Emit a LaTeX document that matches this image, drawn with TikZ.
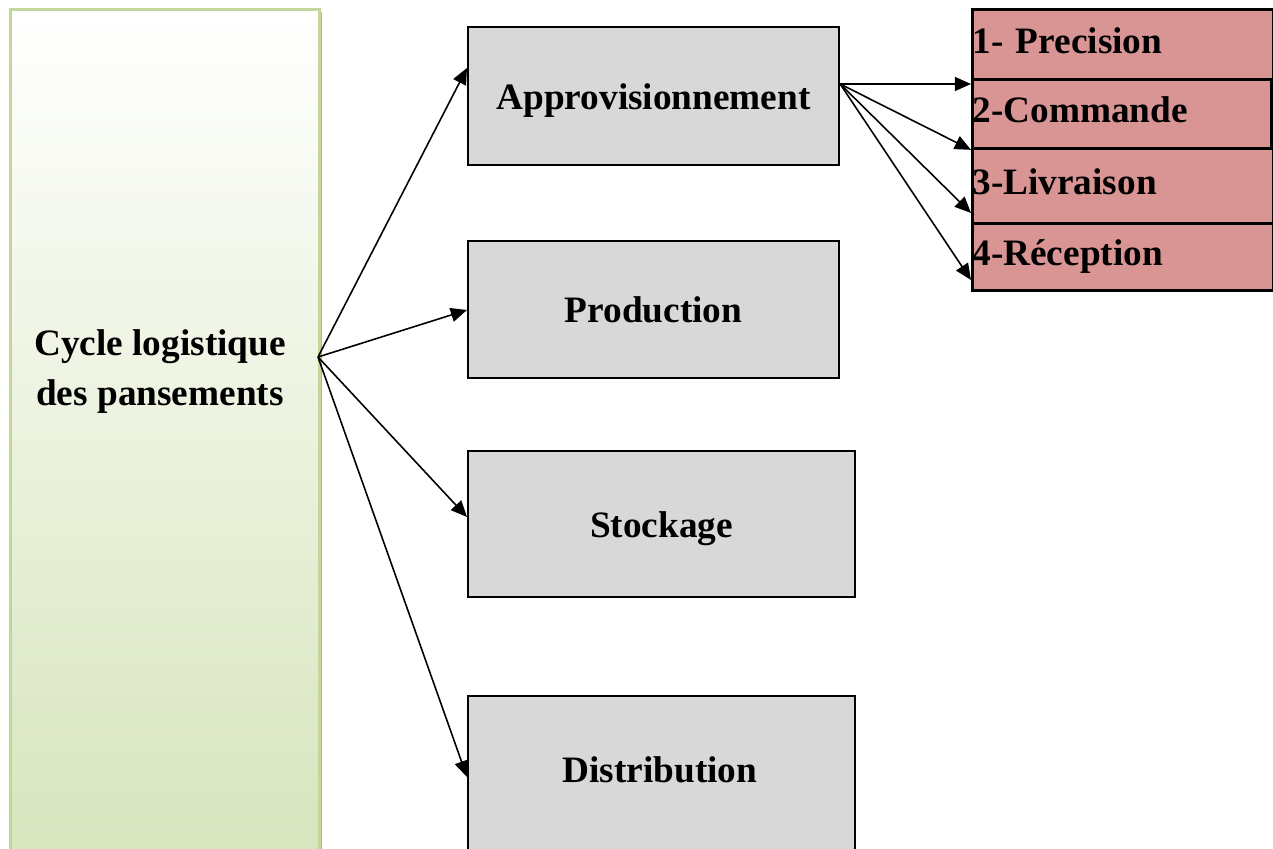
\documentclass[tikz,border=0pt]{standalone}
\usepackage{fontspec}
\setmainfont{Liberation Serif}
\usetikzlibrary{arrows.meta,calc}
\definecolor{redbox}{HTML}{D99594}
\definecolor{graybox}{HTML}{D8D8D8}
\definecolor{greenline}{HTML}{C3D69B}
\definecolor{greenfill}{HTML}{D7E4BC}
\definecolor{greenshadow}{HTML}{A9BF85}
\begin{document}
\begin{tikzpicture}[x=0.01cm,y=-0.01cm,
  lbl/.style={font=\fontsize{10.6}{14.2}\selectfont\bfseries},
  graystep/.style={draw=black,line width=0.55pt,fill=graybox,inner sep=0pt,lbl,anchor=north west,text height=7.5pt,text depth=0pt},
  redstep/.style={draw=black,line width=0.8pt,fill=redbox,inner xsep=0pt,inner ysep=0pt,align=left,lbl,anchor=north west,text height=7.5pt,text depth=2.5pt},
  conn/.style={-{Triangle[length=4.6pt,width=4pt]},line width=0.45pt}]
\useasboundingbox (0,0) rectangle (1273,849);
\clip (0,0) rectangle (1273,849);
% left green box
\fill[greenshadow] (12,12) rectangle (321.5,880);
\node[draw=greenline,line width=0.8pt,top color=white,bottom color=greenfill,
      minimum width=3.09cm,minimum height=8.62cm,inner sep=0pt,anchor=north west] (cyc) at (9,8) {};
\node[lbl,align=center] (cyclbl) at (160,372) {Cycle logistique\\des pansements};
% gray boxes
\node[graystep,minimum width=3.71cm,minimum height=1.38cm] (appro) at (467,26) {Approvisionnement};
\node[graystep,minimum width=3.71cm,minimum height=1.37cm] (prod) at (467,240) {Production};
\node[graystep,minimum width=3.87cm,minimum height=1.46cm] (stock) at (467,450) {Stockage};
\node[graystep,minimum width=3.87cm,minimum height=1.85cm] (dist) at (467,695) {};
\node[lbl] (distlbl) at (660,770) {Distribution};
% red boxes
\node[redstep,text width=3.01cm,minimum height=0.70cm] (r1) at (971,8) {1- Precision};
\node[redstep,text width=2.99cm,minimum height=0.69cm] (r2) at (971,78) {2-Commande};
\node[redstep,text width=3.01cm,minimum height=0.75cm] (r3) at (971,147) {3-Livraison};
\node[redstep,text width=3.01cm,minimum height=0.67cm] (r4) at (971,222) {4-Réception};
% connectors from the cycle box
\coordinate (src) at (318,357);
\draw[conn] (src) -- ($(appro.north west)+(0,42)$);
\draw[conn] (src) -- ($(prod.north west)+(0,70)$);
\draw[conn] (src) -- ($(stock.north west)+(0,67)$);
\draw[conn] (src) -- ($(dist.north west)+(0,82)$);
% connectors from Approvisionnement
\coordinate (asrc) at ($(appro.north east)+(0,58)$);
\draw[conn] (asrc) -- ($(r2.north west)+(0,6)$);
\draw[conn] (asrc) -- (r2.south west);
\draw[conn] (asrc) -- ($(r3.north west)+(0,66)$);
\draw[conn] (asrc) -- ($(r4.north west)+(0,58)$);
\end{tikzpicture}
\end{document}
